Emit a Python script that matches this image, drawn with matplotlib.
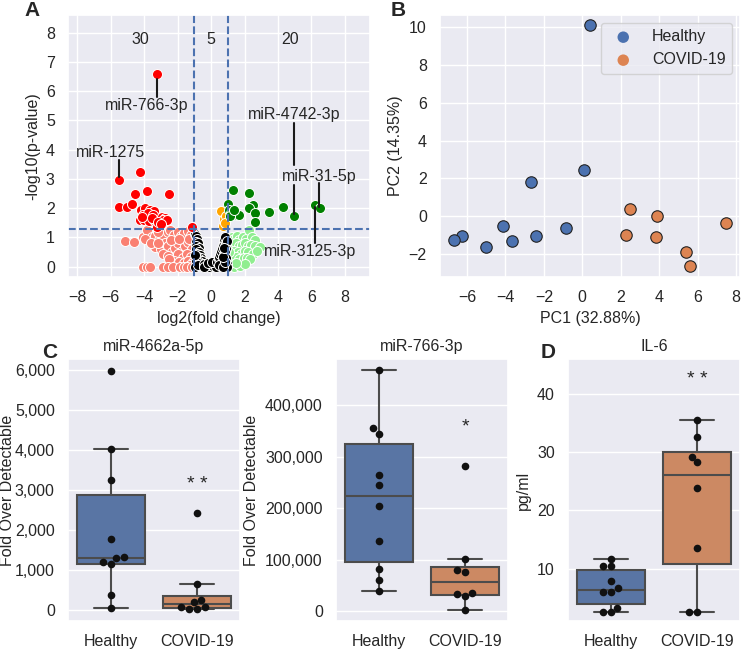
import numpy as np
import matplotlib
matplotlib.use('Agg')
import matplotlib.pyplot as plt
import pandas as pd
import seaborn as sns

sns.set_theme(style='darkgrid')
plt.rcParams['font.family'] = ['Liberation Sans', 'DejaVu Sans']
plt.rcParams.update({'font.size': 11.5, 'xtick.labelsize': 11.5, 'ytick.labelsize': 11.5,
                     'axes.labelsize': 11.5, 'axes.titlesize': 11.5})

# ---------------- volcano data (log2 fold change, -log10 p) ----------------
red_x = [-3.24, -5.53, -4.24, -3.84, -4.54, -2.51, -5.53, -5.0, -4.74, -1.12,
         -4.2, -3.94, -3.64, -3.4, -4.04, -3.74, -3.44, -4.24, -4.0, -3.68,
         -3.4, -2.94, -2.75, -3.24, -2.85, -2.64, -3.54, -4.14, -3.15, -3.0]
red_y = [6.58, 2.95, 3.24, 2.58, 2.50, 2.50, 2.03, 2.03, 2.16, 1.37,
         1.94, 1.99, 1.94, 1.91, 1.77, 1.82, 1.77, 1.59, 1.61, 1.57,
         1.61, 1.71, 1.65, 1.37, 1.59, 1.59, 1.65, 1.71, 1.53, 1.45]

green_x = [1.33, 2.29, 2.53, 2.29, 2.63, 2.63, 3.48, 4.28, 4.96, 6.21, 6.51,
           1.03, 1.1, 1.2, 1.3, 1.4, 1.55, 1.7, 1.15, 1.35]
green_y = [2.62, 2.53, 2.1, 1.99, 1.84, 1.54, 1.86, 2.03, 1.74, 2.1, 2.0,
           2.16, 1.95, 1.85, 1.8, 1.85, 1.78, 1.78, 1.75, 1.95]

orange_x = [0.62, 0.8, 0.9, 0.72, 0.85]
orange_y = [1.9, 1.62, 1.75, 1.4, 1.5]

salmon_x = [-5.15, -4.6, -4.05, -3.8, -3.55, -3.35, -3.1, -2.85, -2.6, -2.45,
            -2.2, -2.0, -1.8, -1.6, -1.4, -1.2, -3.95, -3.2,
            -3.35, -3.0, -2.75, -2.55, -2.35, -2.15, -1.95, -1.75, -1.55, -1.35,
            -1.15, -2.9, -2.6, -2.0, -1.7, -1.45, -1.2, -3.6, -2.4, -1.9, -1.3, -3.15,
            -2.2, -1.9, -1.6, -1.35, -1.1, -2.5, -1.25,
            -4.04, -3.84, -3.64, -2.85, -2.55, -2.26, -1.86, -1.6, -1.46, -1.16]
salmon_y = [0.89, 0.86, 1.02, 1.26, 1.0, 1.05, 0.92, 1.02, 1.18, 1.25,
            1.1, 1.2, 1.05, 1.15, 1.22, 1.1, 0.95, 1.2,
            0.68, 0.62, 0.8, 0.72, 0.5, 0.65, 0.8, 0.55, 0.7, 0.85,
            0.6, 0.45, 0.38, 0.42, 0.3, 0.45, 0.35, 0.8, 0.9, 0.95, 0.95, 0.82,
            0.2, 0.15, 0.12, 0.2, 0.15, 0.25, 0.05,
            0.0, 0.0, 0.0, 0.0, 0.0, 0.0, 0.0, 0.0, 0.0, 0.0]

black_x = [-0.95, -0.9, -0.85, -0.92, -0.8, -0.88, -0.75, -0.9, -0.7, -0.85,
           -0.65, -0.8, -0.6, -0.75, -0.55, -0.7, -0.5, -0.9, -0.95, -0.95, -0.8,
           -0.4, -0.3, -0.15, -0.05, 0.1, 0.2, -0.45, 0.3, -0.2, 0.05,
           0.35, 0.45, 0.5, 0.55, 0.6, 0.65, 0.7, 0.75, 0.8, 0.85, 0.9, 0.94,
           0.9, 0.85, 0.8, 0.9, 0.75, 0.6, 0.45, 0.95, 0.95, 0.7, 0.85, 0.7, 0.8]
black_y = [1.12, 1.05, 0.95, 0.85, 0.8, 0.7, 0.65, 0.6, 0.5, 0.45,
           0.4, 0.35, 0.3, 0.25, 0.2, 0.15, 0.1, 0.2, 0.4, 0.0, 0.05,
           0.08, 0.02, 0.0, 0.05, 0.02, 0.08, 0.0, 0.0, 0.12, 0.15,
           0.15, 0.25, 0.35, 0.45, 0.55, 0.65, 0.75, 0.85, 0.95, 1.0, 0.8, 0.89,
           0.6, 0.5, 0.4, 0.3, 0.2, 0.1, 0.05, 0.1, 0.0, 0.0, 0.15, 0.35, 0.65]

lgreen_x = [1.1, 1.25, 1.4, 1.55, 1.7, 1.9, 2.1, 2.29, 2.45, 2.6,
            1.15, 1.3, 1.5, 1.65, 1.85, 2.0, 2.2, 2.4, 2.6, 2.93,
            1.2, 1.4, 1.6, 1.8, 2.0, 2.2, 2.53, 2.75,
            1.1, 1.3, 1.5, 1.7, 1.95, 2.15, 2.35, 1.15, 1.35, 1.73, 2.05, 1.5, 1.05]
lgreen_y = [0.9, 1.0, 0.95, 1.05, 0.9, 1.0, 0.95, 1.25, 1.0, 0.9,
            0.7, 0.75, 0.8, 0.7, 0.75, 0.8, 0.7, 0.75, 0.7, 0.68,
            0.5, 0.55, 0.5, 0.45, 0.55, 0.5, 0.45, 0.55,
            0.3, 0.3, 0.35, 0.25, 0.3, 0.3, 0.25, 0.1, 0.0, 0.04, 0.1, 0.12, 0.5]

region_counts = ['30', '5', '20']

# ---------------- PCA data ----------------
pc_healthy_x = [0.39, 0.10, -2.65, -0.87, -2.42, -4.13, -3.67, -5.02, -6.24, -6.69]
pc_healthy_y = [10.14, 2.45, 1.81, -0.63, -1.08, -0.51, -1.32, -1.66, -1.08, -1.25]
pc_covid_x = [2.46, 3.88, 2.29, 3.81, 7.49, 5.40, 5.62]
pc_covid_y = [0.35, 0.03, -1.0, -1.09, -0.38, -1.89, -2.64]

# ---------------- box plot data ----------------
groups = ['Healthy', 'COVID-19']
mir4662_healthy = [5992, 4017, 3242, 1783, 1208, 1142, 1300, 1316, 383, 42]
mir4662_covid = [2433, 658, 250, 192, 75, 67, 17, 17]
mir766_healthy = [468200, 355200, 344800, 264300, 244200, 203300, 135700, 81800, 59700, 39600]
mir766_covid = [281800, 100600, 80500, 76000, 35700, 32500, 28600, 2600]
il6_healthy = [11.72, 10.4, 10.4, 7.82, 6.03, 5.92, 6.67, 3.28, 2.47, 2.47]
il6_covid = [35.52, 32.59, 29.25, 28.28, 23.91, 13.51, 2.47, 2.47]

W, H = 742, 649
fig = plt.figure(figsize=(W / 100, H / 100), dpi=100)


def rect(l, t, r, b):
    return [l / W, 1 - b / H, (r - l) / W, (b - t) / H]


# ================= A: volcano =================
ax = fig.add_axes(rect(68, 15, 370, 277))
kw = dict(s=52, edgecolor='white', linewidth=0.7)
ax.scatter(salmon_x, salmon_y, color='salmon', **kw)
ax.scatter(lgreen_x, lgreen_y, color='lightgreen', **kw)
ax.scatter(black_x, black_y, color='black', **kw)
ax.scatter(orange_x, orange_y, color='orange', **kw)
ax.scatter(red_x, red_y, color='red', **kw)
ax.scatter(green_x, green_y, color='green', **kw)
ax.axhline(1.3, color='#4c72b0', ls='--', lw=1.5)
ax.axvline(-1, color='#4c72b0', ls='--', lw=1.5)
ax.axvline(1, color='#4c72b0', ls='--', lw=1.5)
ax.set_xlim(-8.55, 9.5)
ax.set_ylim(-0.35, 8.6)
ax.set_xticks(np.arange(-8, 9, 2))
ax.set_yticks(np.arange(0, 9, 1))
ax.set_xlabel('log2(fold change)')
ax.set_ylabel('-log10(p-value)')
for xt, t in zip([-4.25, 0, 4.75], region_counts):
    ax.text(xt, 7.75, t, ha='center', va='center')

# labelled miRNAs: vertical leader lines plus text
ax.plot([-3.24, -3.24], [6.42, 5.8], color='k', lw=1.5)
ax.text(-3.86, 5.51, 'miR-766-3p', ha='center', va='center')
ax.plot([-5.53, -5.53], [3.64, 3.05], color='k', lw=1.5)
ax.text(-6.03, 3.89, 'miR-1275', ha='center', va='center')
ax.plot([4.96, 4.96], [4.91, 3.47], color='k', lw=1.5)
ax.plot([4.96, 4.96], [2.8, 1.8], color='k', lw=1.5)
ax.text(4.96, 5.2, 'miR-4742-3p', ha='center', va='center')
ax.plot([6.48, 6.48], [2.87, 2.05], color='k', lw=1.5)
ax.text(6.45, 3.1, 'miR-31-5p', ha='center', va='center')
ax.plot([6.21, 6.21], [2.05, 0.82], color='k', lw=1.5)
ax.text(5.93, 0.51, 'miR-3125-3p', ha='center', va='center')

# ================= B: PCA =================
ax = fig.add_axes(rect(440, 15, 740, 277))
ax.scatter(pc_healthy_x, pc_healthy_y, s=68, color='#4c72b0', edgecolor='#222222',
           linewidth=0.8, label='Healthy')
ax.scatter(pc_covid_x, pc_covid_y, s=68, color='#dd8452', edgecolor='#222222',
           linewidth=0.8, label='COVID-19')
ax.set_xlim(-7.4, 8.2)
ax.set_ylim(-3.23, 10.66)
ax.set_xticks(np.arange(-6, 9, 2))
ax.set_yticks(np.arange(-2, 11, 2))
ax.set_xlabel('PC1 (32.88%)')
ax.set_ylabel('PC2 (14.35%)')
leg = ax.legend(loc='upper right', fontsize=11.5)
for h in leg.legend_handles:
    h.set_edgecolor('none')

# ================= C / D: box plots =================
def boxpanel(pos, healthy, covid, title, ylabel, ylim, yticks, star, star_y, fmt=True):
    ax = fig.add_axes(rect(*pos))
    df = pd.DataFrame({'group': [groups[0]] * len(healthy) + [groups[1]] * len(covid),
                       'val': list(healthy) + list(covid)})
    sns.boxplot(data=df, x='group', y='val', hue='group', palette='deep', legend=False,
                showfliers=False, linewidth=1.5, width=0.8, ax=ax)
    sns.swarmplot(data=df, x='group', y='val', color='#111111', size=5.5, ax=ax)
    ax.set_ylim(*ylim)
    ax.set_yticks(yticks)
    if fmt:
        ax.yaxis.set_major_formatter(matplotlib.ticker.StrMethodFormatter('{x:,.0f}'))
    ax.set_xlim(-0.5, 1.5)
    ax.set_xlabel('')
    ax.set_ylabel(ylabel)
    ax.set_title(title, pad=6)
    ax.text(1, star_y, star, ha='center', va='center', fontsize=14)
    return ax


ax = boxpanel((68, 359, 240, 621), mir4662_healthy, mir4662_covid, 'miR-4662a-5p',
              'Fold Over Detectable', (-280, 6280), np.arange(0, 6001, 1000), '* *', 3150)
ax.yaxis.set_label_coords(-53 / 172, 0.5)
boxpanel((336, 359, 508, 621), mir766_healthy, mir766_covid, 'miR-766-3p',
         'Fold Over Detectable', (-19500, 489600), np.arange(0, 400001, 100000), '*', 357000)
boxpanel((568, 359, 740, 621), il6_healthy, il6_covid, 'IL-6',
         'pg/ml', (1.0, 46.0), [10, 20, 30, 40], '* *', 42.5, fmt=False)

for lbl, x, y in [('A', 32, 10), ('B', 398, 10), ('C', 50, 352), ('D', 548, 352)]:
    fig.text(x / W, 1 - y / H, lbl, fontsize=15, fontweight='bold', ha='center', va='center')

fig.savefig('out.png', dpi=100)
